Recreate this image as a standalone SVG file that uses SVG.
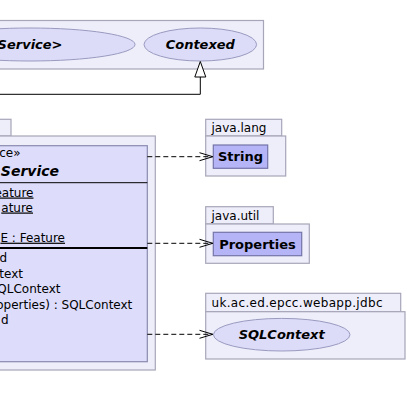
<svg xmlns="http://www.w3.org/2000/svg" width="407" height="408" viewBox="0 0 407 408">
<style>
.pkg{fill:#EEEEFB;stroke:#A6A6B8;stroke-width:1.2}
.cls{fill:#DDDDFB;stroke:#8A8AB0;stroke-width:1.2}
.ext{fill:#B4B4F6;stroke:#7474A8;stroke-width:1.2}
.ell{fill:#DCDCF8;stroke:#9A9AC0;stroke-width:1}
text{font-family:"DejaVu Sans","Liberation Sans",sans-serif;fill:#000}
.pl{font-size:12px}
.mem{font-size:12px}
.bn{font-size:13px;font-weight:bold}
.bi{font-size:13px;font-weight:bold;font-style:italic}
.title{font-size:14px;font-weight:bold;font-style:italic}
.u{text-decoration:underline}
.dep{fill:none;stroke:#000;stroke-width:1;stroke-dasharray:5,3}
.head{fill:none;stroke:#000;stroke-width:1}
</style>
<g id="pkg-top">
<rect class="pkg" x="-10" y="20.5" width="273.5" height="48.5"/>
<g id="node-service-iface">
<ellipse class="ell" cx="30" cy="44.5" rx="105" ry="16.5"/>
<text class="bi" x="62.5" y="49" text-anchor="end">Service&gt;</text>
</g>
<g id="node-contexed">
<ellipse class="ell" cx="200.3" cy="44.5" rx="56.3" ry="16.5"/>
<text class="bi" x="200.3" y="49" text-anchor="middle">Contexed</text>
</g>
</g>
<g id="node-class">
<rect class="pkg" x="-10" y="119.3" width="21" height="16.7"/>
<rect class="pkg" x="-10" y="136" width="165.3" height="234"/>
<rect class="cls" x="-10" y="145.7" width="157.3" height="216"/>
<text class="mem" x="20.5" y="156.5" text-anchor="end">ce»</text>
<text class="title" x="59" y="176" text-anchor="end">Service</text>
<line x1="-10" y1="182.7" x2="147.3" y2="182.7" stroke="#000" stroke-width="1"/>
<text class="mem u" x="33.5" y="196.5" text-anchor="end">eature</text>
<text class="mem u" x="33" y="211.5" text-anchor="end">ature</text>
<text class="mem u" x="65" y="241.7" text-anchor="end">E : Feature</text>
<line x1="-10" y1="248" x2="147.3" y2="248" stroke="#000" stroke-width="2"/>
<text class="mem" x="7.2" y="262" text-anchor="end">d</text>
<text class="mem" x="23" y="277.5" text-anchor="end">text</text>
<text class="mem" x="60.5" y="293" text-anchor="end">QLContext</text>
<text class="mem" x="132.3" y="308.5" text-anchor="end">operties) : SQLContext</text>
<text class="mem" x="8.7" y="324" text-anchor="end">d</text>
</g>
<g id="pkg-java-lang">
<rect class="pkg" x="205.7" y="119.3" width="76" height="16.7"/>
<rect class="pkg" x="205.7" y="136" width="80" height="40"/>
<text class="pl" x="211.5" y="131.7">java.lang</text>
<g id="node-string">
<rect class="ext" x="213.3" y="145" width="54.4" height="23.3"/>
<text class="bn" x="240.5" y="161.3" text-anchor="middle">String</text>
</g>
</g>
<g id="pkg-java-util">
<rect class="pkg" x="205.7" y="206.7" width="67.6" height="17.3"/>
<rect class="pkg" x="205.7" y="224" width="103.6" height="39.3"/>
<text class="pl" x="211.5" y="219.5">java.util</text>
<g id="node-properties">
<rect class="ext" x="213.3" y="232.3" width="88.4" height="23.4"/>
<text class="bn" x="257.5" y="248.5" text-anchor="middle">Properties</text>
</g>
</g>
<g id="pkg-jdbc">
<rect class="pkg" x="205.7" y="293.3" width="195" height="18.4"/>
<rect class="pkg" x="205.7" y="311.7" width="199.3" height="47.3"/>
<text class="pl" x="211.5" y="306.7" textLength="171" lengthAdjust="spacing">uk.ac.ed.epcc.webapp.jdbc</text>
<g id="node-sqlcontext">
<ellipse class="ell" cx="281.7" cy="334.7" rx="68.3" ry="16.3"/>
<text class="bi" x="281.7" y="339.3" text-anchor="middle">SQLContext</text>
</g>
</g>
<g id="connectors">
<polyline fill="none" stroke="#000" stroke-width="1" points="-5,94.3 200.3,94.3 200.3,77"/>
<polygon points="200.3,61.5 194.8,77 205.8,77" fill="#fff" stroke="#000" stroke-width="1"/>
<line class="dep" x1="147.3" y1="156.7" x2="212.5" y2="156.7"/>
<polyline class="head" points="199.5,152.7 212.8,156.7 199.5,160.7"/>
<line class="dep" x1="147.3" y1="243.3" x2="212.5" y2="243.3"/>
<polyline class="head" points="199.5,239.3 212.8,243.3 199.5,247.3"/>
<line class="dep" x1="147.3" y1="334.3" x2="212.5" y2="334.3"/>
<polyline class="head" points="199.5,330.3 212.8,334.3 199.5,338.3"/>
</g>
</svg>
